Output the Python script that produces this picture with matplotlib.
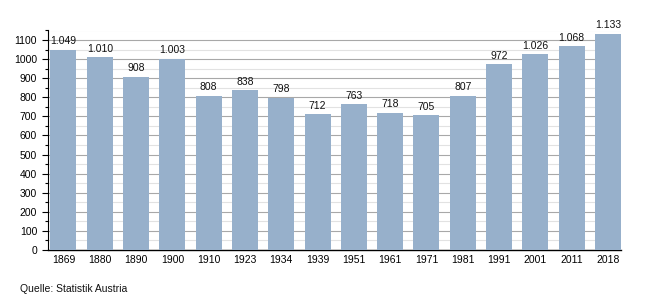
import matplotlib
matplotlib.use("Agg")
import matplotlib.pyplot as plt
from matplotlib.ticker import MultipleLocator

years = ["1869", "1880", "1890", "1900", "1910", "1923", "1934", "1939",
         "1951", "1961", "1971", "1981", "1991", "2001", "2011", "2018"]
values = [1049, 1010, 908, 1003, 808, 838, 798, 712, 763, 718, 705, 807,
          972, 1026, 1068, 1133]

plt.rcParams['font.family'] = ['Liberation Sans', 'DejaVu Sans']

fig = plt.figure(figsize=(6.5, 3.0), dpi=100)
ax = fig.add_axes([47.5/650, 1-250/300, (621-47.5)/650, (250-30.5)/300])

x = list(range(len(years)))
bars = ax.bar(x, values, width=0.716, color="#97B0CB", zorder=3)

def fmt(v):
    return f"{v:,}".replace(",", ".")

for xi, v in zip(x, values):
    ax.annotate(fmt(v), (xi, v), xytext=(0, 2.5), textcoords="offset points",
                ha="center", va="bottom", fontsize=7.5, color="#111111")

ax.set_xlim(-0.44, len(years) - 1 + 0.36)
ax.set_ylim(0, 1150)
ax.yaxis.set_major_locator(MultipleLocator(100))
ax.yaxis.set_minor_locator(MultipleLocator(50))
ax.set_xticks(x)
ax.set_xticklabels(years)

ax.grid(axis="y", which="major", color="#A8A8A8", linewidth=0.8, zorder=0)
ax.grid(axis="y", which="minor", color="#E2E2E2", linewidth=0.8, zorder=0)
ax.set_axisbelow(True)

for s in ["top", "right"]:
    ax.spines[s].set_visible(False)
ax.spines["left"].set_color("black")
ax.spines["left"].set_linewidth(0.8)
ax.spines["bottom"].set_color("black")
ax.spines["bottom"].set_linewidth(1.0)

ax.tick_params(axis="y", which="major", length=4.5, width=0.8, pad=3,
               labelsize=7.5, colors="black")
ax.tick_params(axis="y", which="minor", length=2.5, width=0.8)
ax.tick_params(axis="x", which="both", length=0, pad=3.5, labelsize=7.5)

fig.text(20/650, 1-289/300, "Quelle: Statistik Austria", fontsize=7.5,
         ha="left", va="center", color="#111111")

fig.savefig("out.png", dpi=100)
